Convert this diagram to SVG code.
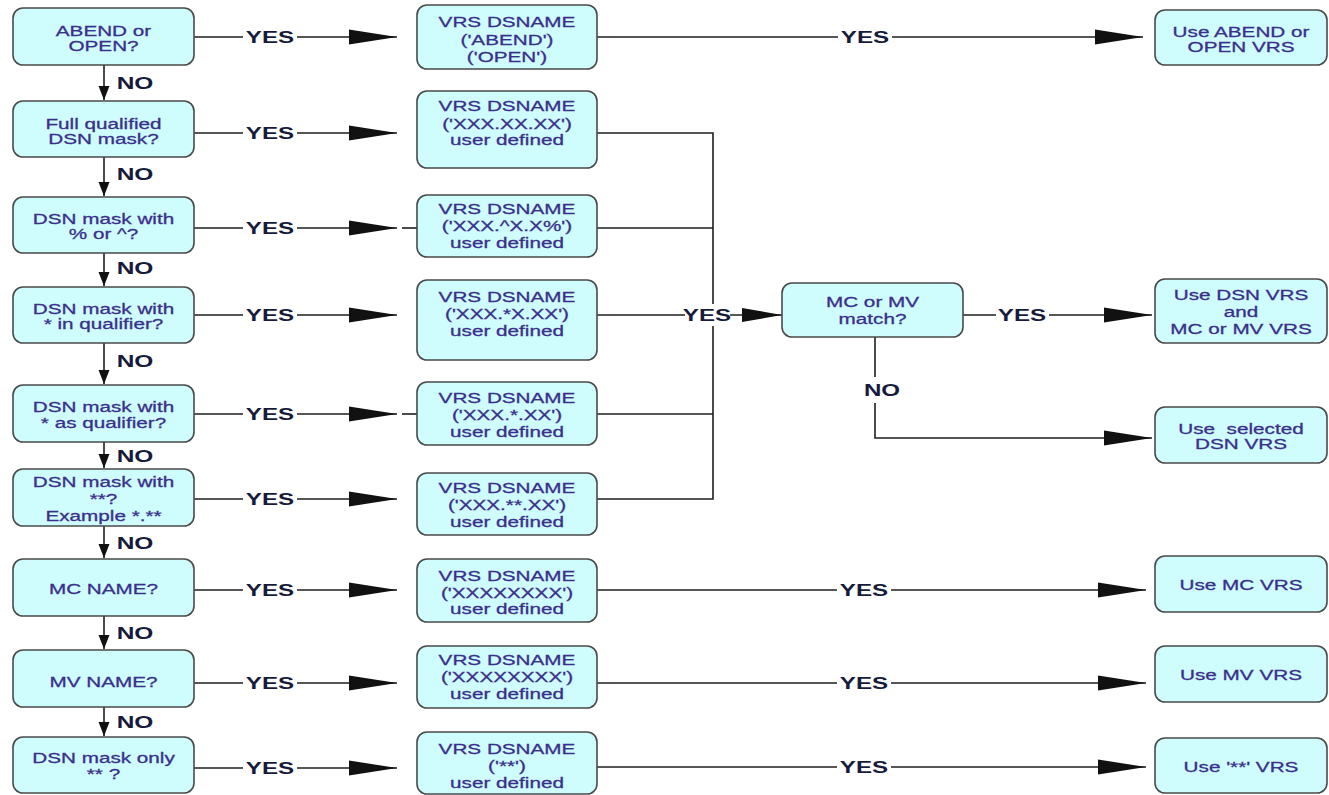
<svg xmlns="http://www.w3.org/2000/svg" width="1329" height="795" viewBox="0 0 1329 795">
<style>
.box{fill:#cffcfc;stroke:#4a4a4a;stroke-width:1.6}
.t{font-family:"Liberation Sans",Arial,sans-serif;font-size:15px;fill:#3a2f8c;stroke:#3a2f8c;stroke-width:0.3;text-anchor:middle}
.lbl{font-family:"Liberation Sans",Arial,sans-serif;font-size:17px;font-weight:bold;fill:#161b3c;text-anchor:middle}
.ln{stroke:#1e1e1e;stroke-width:1.6;fill:none}
</style>
<defs>
<marker id="big" markerUnits="userSpaceOnUse" markerWidth="50" markerHeight="16" refX="48" refY="8" orient="auto"><path d="M0,0.5 L48,8 L0,15.5 Z" fill="#111"/></marker>
<marker id="mid" markerUnits="userSpaceOnUse" markerWidth="42" markerHeight="16" refX="40" refY="8" orient="auto"><path d="M0,1 L40,8 L0,15 Z" fill="#111"/></marker>
<marker id="dn" markerUnits="userSpaceOnUse" markerWidth="16" markerHeight="12" refX="14" refY="6" orient="auto"><path d="M0,0.5 L14,6 L0,11.5 Z" fill="#111"/></marker>
</defs>
<rect width="1329" height="795" fill="#fff"/>

<g id="connectors">
<path class="ln" marker-end="url(#dn)" d="M104,65 V100"/>
<path class="ln" marker-end="url(#dn)" d="M104,157 V196"/>
<path class="ln" marker-end="url(#dn)" d="M104,253 V286"/>
<path class="ln" marker-end="url(#dn)" d="M104,343 V384"/>
<path class="ln" marker-end="url(#dn)" d="M104,442 V468"/>
<path class="ln" marker-end="url(#dn)" d="M104,526 V558"/>
<path class="ln" marker-end="url(#dn)" d="M104,616 V649"/>
<path class="ln" marker-end="url(#dn)" d="M104,707 V736"/>
<text class="lbl" transform="translate(135 89) scale(1.44 1)">NO</text>
<text class="lbl" transform="translate(135 180) scale(1.44 1)">NO</text>
<text class="lbl" transform="translate(135 274) scale(1.44 1)">NO</text>
<text class="lbl" transform="translate(135 367) scale(1.44 1)">NO</text>
<text class="lbl" transform="translate(135 462) scale(1.44 1)">NO</text>
<text class="lbl" transform="translate(135 549) scale(1.44 1)">NO</text>
<text class="lbl" transform="translate(135 639) scale(1.44 1)">NO</text>
<text class="lbl" transform="translate(135 728) scale(1.44 1)">NO</text>

<path class="ln" d="M194,37 H243"/><path class="ln" marker-end="url(#big)" d="M297,37 H397"/>
<text class="lbl" transform="translate(270 43) scale(1.42 1)">YES</text>
<path class="ln" d="M194,133 H243"/><path class="ln" marker-end="url(#big)" d="M297,133 H397"/>
<text class="lbl" transform="translate(270 139) scale(1.42 1)">YES</text>
<path class="ln" d="M194,228 H243"/><path class="ln" marker-end="url(#big)" d="M297,228 H397"/>
<text class="lbl" transform="translate(270 234) scale(1.42 1)">YES</text>
<path class="ln" d="M402,228 H417"/>
<path class="ln" d="M194,315 H243"/><path class="ln" marker-end="url(#big)" d="M297,315 H397"/>
<text class="lbl" transform="translate(270 321) scale(1.42 1)">YES</text>
<path class="ln" d="M194,414 H243"/><path class="ln" marker-end="url(#big)" d="M297,414 H397"/>
<text class="lbl" transform="translate(270 420) scale(1.42 1)">YES</text>
<path class="ln" d="M402,414 H417"/>
<path class="ln" d="M194,499 H243"/><path class="ln" marker-end="url(#big)" d="M297,499 H397"/>
<text class="lbl" transform="translate(270 505) scale(1.42 1)">YES</text>
<path class="ln" d="M194,590 H243"/><path class="ln" marker-end="url(#big)" d="M297,590 H397"/>
<text class="lbl" transform="translate(270 596) scale(1.42 1)">YES</text>
<path class="ln" d="M194,683 H243"/><path class="ln" marker-end="url(#big)" d="M297,683 H397"/>
<text class="lbl" transform="translate(270 689) scale(1.42 1)">YES</text>
<path class="ln" d="M194,768 H243"/><path class="ln" marker-end="url(#big)" d="M297,768 H397"/>
<text class="lbl" transform="translate(270 774) scale(1.42 1)">YES</text>

<path class="ln" d="M597,37 H838"/><path class="ln" marker-end="url(#big)" d="M892,37 H1143"/>
<text class="lbl" transform="translate(865 43) scale(1.42 1)">YES</text>
<path class="ln" d="M597,590 H837"/><path class="ln" marker-end="url(#big)" d="M891,590 H1146"/>
<text class="lbl" transform="translate(864 596) scale(1.42 1)">YES</text>
<path class="ln" d="M597,683 H837"/><path class="ln" marker-end="url(#big)" d="M891,683 H1146"/>
<text class="lbl" transform="translate(864 689) scale(1.42 1)">YES</text>
<path class="ln" d="M597,767 H837"/><path class="ln" marker-end="url(#big)" d="M891,767 H1146"/>
<text class="lbl" transform="translate(864 773) scale(1.42 1)">YES</text>

<path class="ln" d="M597,133 H713 V499 H597"/>
<path class="ln" d="M597,228 H713"/>
<path class="ln" d="M597,315 H686"/>
<path class="ln" d="M597,414 H713"/>
<rect x="685" y="304" width="46" height="22" fill="#fff"/>
<text class="lbl" transform="translate(707 321) scale(1.42 1)">YES</text>
<path class="ln" marker-end="url(#mid)" d="M730,315 H782"/>

<path class="ln" d="M963,315 H996"/><path class="ln" marker-end="url(#big)" d="M1049,315 H1152"/>
<text class="lbl" transform="translate(1022 321) scale(1.42 1)">YES</text>
<path class="ln" d="M875,337 V377"/>
<path class="ln" marker-end="url(#big)" d="M875,403 V438 H1152"/>
<text class="lbl" transform="translate(882 396) scale(1.42 1)">NO</text>
</g>

<g id="q1"><rect class="box" x="13" y="8" width="181" height="57" rx="10"/>
<text class="t" transform="translate(103.5 36.3) scale(1.38 1)">ABEND or</text>
<text class="t" transform="translate(103.5 51.3) scale(1.38 1)">OPEN?</text></g>
<g id="q2"><rect class="box" x="13" y="101" width="181" height="56" rx="10"/>
<text class="t" transform="translate(103.5 128.8) scale(1.38 1)">Full qualified</text>
<text class="t" transform="translate(103.5 143.8) scale(1.38 1)">DSN mask?</text></g>
<g id="q3"><rect class="box" x="13" y="197" width="181" height="56" rx="10"/>
<text class="t" transform="translate(103.5 224.3) scale(1.38 1)">DSN mask with</text>
<text class="t" transform="translate(103.5 239.3) scale(1.38 1)">% or ^?</text></g>
<g id="q4"><rect class="box" x="13" y="287" width="181" height="56" rx="10"/>
<text class="t" transform="translate(103.5 314.3) scale(1.38 1)">DSN mask with</text>
<text class="t" transform="translate(103.5 329.3) scale(1.38 1)">* in qualifier?</text></g>
<g id="q5"><rect class="box" x="13" y="385" width="181" height="57" rx="10"/>
<text class="t" transform="translate(103.5 411.8) scale(1.38 1)">DSN mask with</text>
<text class="t" transform="translate(103.5 427.8) scale(1.38 1)">* as qualifier?</text></g>
<g id="q6"><rect class="box" x="13" y="469" width="181" height="57" rx="10"/>
<text class="t" transform="translate(103.5 487.3) scale(1.38 1)">DSN mask with</text>
<text class="t" transform="translate(103.5 504.3) scale(1.38 1)">**?</text>
<text class="t" transform="translate(103.5 521.3) scale(1.38 1)">Example *.**</text></g>
<g id="q7"><rect class="box" x="13" y="559" width="181" height="57" rx="10"/>
<text class="t" transform="translate(103.5 594.3) scale(1.38 1)">MC NAME?</text></g>
<g id="q8"><rect class="box" x="13" y="650" width="181" height="57" rx="10"/>
<text class="t" transform="translate(103.5 687.3) scale(1.38 1)">MV NAME?</text></g>
<g id="q9"><rect class="box" x="13" y="737" width="181" height="56" rx="10"/>
<text class="t" transform="translate(103.5 763.3) scale(1.38 1)">DSN mask only</text>
<text class="t" transform="translate(103.5 779.3) scale(1.38 1)">** ?</text></g>

<g id="v1"><rect class="box" x="417" y="5" width="180" height="64" rx="10"/>
<text class="t" transform="translate(507 27.3) scale(1.38 1)">VRS DSNAME</text>
<text class="t" transform="translate(507 45.3) scale(1.38 1)">('ABEND')</text>
<text class="t" transform="translate(507 62.3) scale(1.38 1)">('OPEN')</text></g>
<g id="v2"><rect class="box" x="417" y="91" width="180" height="77" rx="10"/>
<text class="t" transform="translate(507 111.3) scale(1.38 1)">VRS DSNAME</text>
<text class="t" transform="translate(507 129.3) scale(1.38 1)">('XXX.XX.XX')</text>
<text class="t" transform="translate(507 145.3) scale(1.38 1)">user defined</text></g>
<g id="v3"><rect class="box" x="417" y="195" width="180" height="62" rx="10"/>
<text class="t" transform="translate(507 214.3) scale(1.38 1)">VRS DSNAME</text>
<text class="t" transform="translate(507 231.3) scale(1.38 1)">('XXX.^X.X%')</text>
<text class="t" transform="translate(507 248.3) scale(1.38 1)">user defined</text></g>
<g id="v4"><rect class="box" x="417" y="280" width="180" height="80" rx="10"/>
<text class="t" transform="translate(507 302.3) scale(1.38 1)">VRS DSNAME</text>
<text class="t" transform="translate(507 319.3) scale(1.38 1)">('XXX.*X.XX')</text>
<text class="t" transform="translate(507 336.3) scale(1.38 1)">user defined</text></g>
<g id="v5"><rect class="box" x="417" y="382" width="180" height="63" rx="10"/>
<text class="t" transform="translate(507 403.3) scale(1.38 1)">VRS DSNAME</text>
<text class="t" transform="translate(507 420.3) scale(1.38 1)">('XXX.*.XX')</text>
<text class="t" transform="translate(507 437.3) scale(1.38 1)">user defined</text></g>
<g id="v6"><rect class="box" x="417" y="473" width="180" height="62" rx="10"/>
<text class="t" transform="translate(507 493.3) scale(1.38 1)">VRS DSNAME</text>
<text class="t" transform="translate(507 510.3) scale(1.38 1)">('XXX.**.XX')</text>
<text class="t" transform="translate(507 527.3) scale(1.38 1)">user defined</text></g>
<g id="v7"><rect class="box" x="417" y="559" width="180" height="63" rx="10"/>
<text class="t" transform="translate(507 581.3) scale(1.38 1)">VRS DSNAME</text>
<text class="t" transform="translate(507 598.3) scale(1.38 1)">('XXXXXXXX')</text>
<text class="t" transform="translate(507 614.3) scale(1.38 1)">user defined</text></g>
<g id="v8"><rect class="box" x="417" y="646" width="180" height="62" rx="10"/>
<text class="t" transform="translate(507 665.3) scale(1.38 1)">VRS DSNAME</text>
<text class="t" transform="translate(507 682.3) scale(1.38 1)">('XXXXXXXX')</text>
<text class="t" transform="translate(507 699.3) scale(1.38 1)">user defined</text></g>
<g id="v9"><rect class="box" x="417" y="732" width="180" height="62" rx="10"/>
<text class="t" transform="translate(507 754.3) scale(1.38 1)">VRS DSNAME</text>
<text class="t" transform="translate(507 771.3) scale(1.38 1)">('**')</text>
<text class="t" transform="translate(507 788.3) scale(1.38 1)">user defined</text></g>

<g id="mcmv"><rect class="box" x="782" y="283" width="181" height="54" rx="10"/>
<text class="t" transform="translate(872.5 307.3) scale(1.38 1)">MC or MV</text>
<text class="t" transform="translate(872.5 324.3) scale(1.38 1)">match?</text></g>

<g id="r1"><rect class="box" x="1155" y="10" width="172" height="55" rx="10"/>
<text class="t" transform="translate(1241 37.3) scale(1.38 1)">Use ABEND or</text>
<text class="t" transform="translate(1241 52.3) scale(1.38 1)">OPEN VRS</text></g>
<g id="r4"><rect class="box" x="1155" y="279" width="172" height="64" rx="10"/>
<text class="t" transform="translate(1241 300.3) scale(1.38 1)">Use DSN VRS</text>
<text class="t" transform="translate(1241 317.3) scale(1.38 1)">and</text>
<text class="t" transform="translate(1241 334.3) scale(1.38 1)">MC or MV VRS</text></g>
<g id="r5"><rect class="box" x="1155" y="407" width="172" height="56" rx="10"/>
<text class="t" xml:space="preserve" transform="translate(1241 434.3) scale(1.38 1)">Use  selected</text>
<text class="t" transform="translate(1241 449.3) scale(1.38 1)">DSN VRS</text></g>
<g id="r7"><rect class="box" x="1155" y="556" width="172" height="56" rx="10"/>
<text class="t" transform="translate(1241 590.3) scale(1.38 1)">Use MC VRS</text></g>
<g id="r8"><rect class="box" x="1155" y="646" width="172" height="56" rx="10"/>
<text class="t" transform="translate(1241 680.3) scale(1.38 1)">Use MV VRS</text></g>
<g id="r9"><rect class="box" x="1155" y="738" width="172" height="55" rx="10"/>
<text class="t" transform="translate(1241 772.3) scale(1.38 1)">Use '**' VRS</text></g>
</svg>
